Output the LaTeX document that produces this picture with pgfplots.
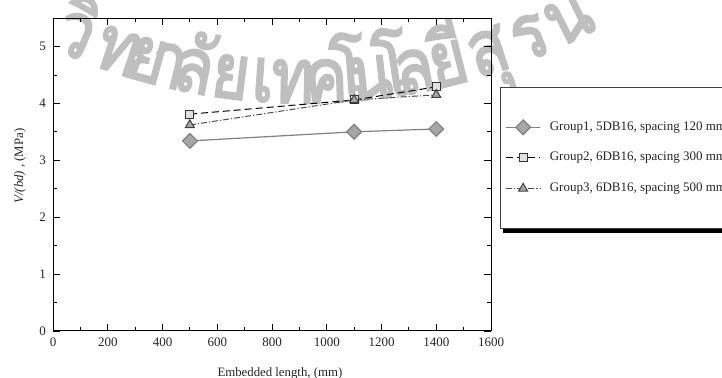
\documentclass[border=0pt]{standalone}
\usepackage{pgfplots}
\pgfplotsset{compat=1.18}
\usepackage{fontspec}
\setmainfont{Liberation Serif}
\newfontfamily\thaifont[Script=Thai, FakeBold=3]{Loma}

\begin{document}
\begin{tikzpicture}
% watermark along an arc (x = horizontal pixel position of each glyph cluster)
\foreach \t/\x in {วิ/80, ท/123, ย/152, า/173, ลั/198, ย/235, เ/267, ท/297, ค/330, โ/352, น/374, โ/396, ล/418, ยี/452, สุ/492, ร/533, น/572}{
  \pgfmathsetmacro\a{asin(1.04*(\x-309)/610)}
  \node[rotate=\a, xscale=0.85, anchor=base, text=black!25, inner sep=0pt,
        font=\thaifont\fontsize{38}{38}\selectfont]
        at ([shift={(\a-90:305pt)}]126pt,419pt) {\t};
}
\begin{axis}[
  at={(0,0)}, anchor=south west,
  scale only axis, width=219pt, height=156.5pt,
  xmin=0, xmax=1600, ymin=0, ymax=5.5,
  xtick={0,200,...,1600}, ytick={0,1,...,5},
  minor x tick num=1, minor y tick num=1,
  tick align=inside,
  major tick length=3.5pt, minor tick length=2pt,
  axis line style={line width=0.5pt},
  every tick/.style={black, line width=0.4pt},
  tick label style={font=\fontsize{6.5}{7}\selectfont, text=black!85},
  /pgf/number format/assume math mode=true,
  /pgf/number format/1000 sep={},
  xlabel={Embedded length, (mm)},
  ylabel={\textit{V/(bd)} , (MPa)},
  label style={font=\fontsize{6.4}{7}\selectfont, text=black!85},
  xlabel style={at={(axis description cs:0.518,0)}, anchor=north, yshift=-14.8pt},
  ylabel style={at={(axis description cs:-0.0753,0.527)}, anchor=center},
  legend cell align=left,
  legend style={name=legbox, at={(1.0205,0.7796)}, anchor=north west,
    font=\fontsize{6.5}{7.5}\selectfont, text=black!85,
    draw=black!75, line width=0.5pt, fill=white,
    inner xsep=2.5pt, inner ysep=15pt, row sep=5.5pt,
    /tikz/every odd column/.append style={column sep=2.5pt}},
]
\addplot[color=black!50, line width=0.6pt, mark=square*, mark size=2.6pt,
  mark options={rotate=45, solid, fill=black!35, draw=black!50}]
  coordinates {(500,3.34) (1100,3.50) (1400,3.55)};
\addlegendentry{Group1, 5DB16, spacing 120 mm}
\addplot[color=black, line width=0.5pt, dash pattern=on 3.5pt off 2pt,
  mark=square*, mark size=2pt,
  mark options={solid, fill=black!12, draw=black!80}]
  coordinates {(500,3.81) (1100,4.06) (1400,4.29)};
\addlegendentry{Group2, 6DB16, spacing 300 mm}
\addplot[color=black!70, line width=0.5pt, dash pattern=on 3pt off 1pt on 0.6pt off 1pt,
  mark=triangle*, mark size=2.6pt,
  mark options={solid, fill=black!35, draw=black!75}]
  coordinates {(500,3.62) (1100,4.06) (1400,4.15)};
\addlegendentry{Group3, 6DB16, spacing 500 mm}
\end{axis}
% legend shadow strip (bottom edge)
\fill[black] ([xshift=1.5pt]legbox.south west) rectangle ([xshift=30pt,yshift=-2pt]legbox.south east);
\pgfresetboundingbox
\path[use as bounding box] (-26.5pt,-23.5pt) rectangle (334.5pt,165.5pt);
\end{tikzpicture}
\end{document}
